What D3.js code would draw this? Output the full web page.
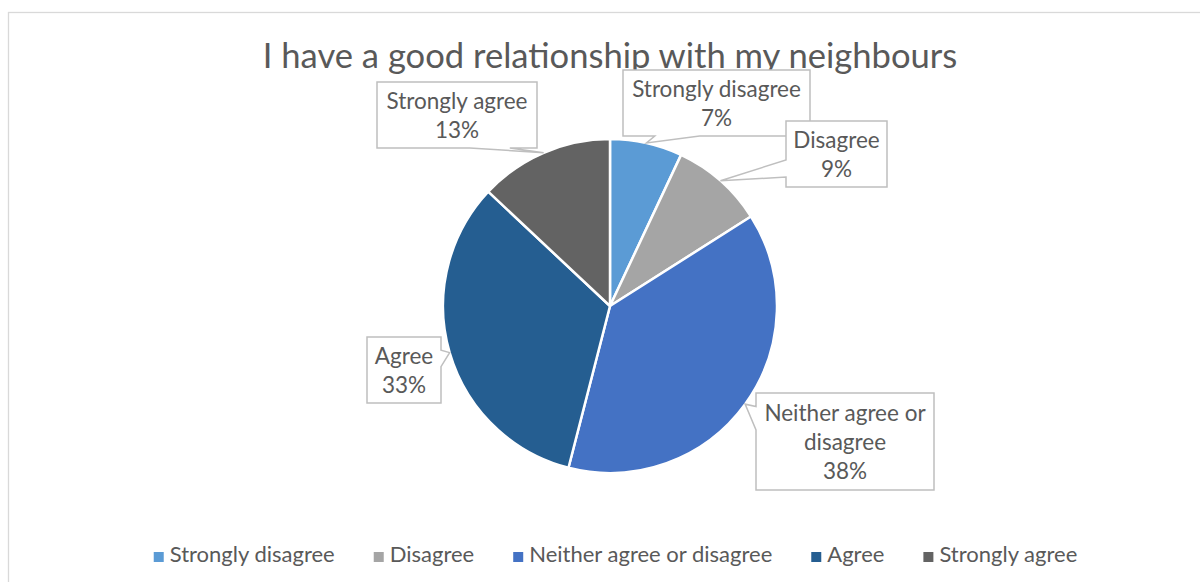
<!DOCTYPE html>
<html>
<head>
<meta charset="utf-8">
<script src="https://cdn.jsdelivr.net/npm/d3@7"></script>
<style>
  html, body { margin: 0; padding: 0; background: #fff; }
  svg { display: block; }
  text { font-family: Lato, "Open Sans", sans-serif; fill: #595959; }
</style>
</head>
<body>
<svg id="chart" width="1200" height="582"></svg>
<script>
// Survey responses
const chartTitle = "I have a good relationship with my neighbours";
const categories = ["Strongly disagree", "Disagree", "Neither agree or disagree", "Agree", "Strongly agree"];
const values = [7, 9, 38, 33, 13];
const colors = ["#5B9BD5", "#A5A5A5", "#4472C4", "#255E91", "#636363"];

// Callout boxes: [x, y, width, height], side the pointer leaves from,
// and the span of that side used for the pointer base.
const callouts = [
  { box: [623, 70, 187, 66], side: "bottom", base: [0.17, 0.41] },
  { box: [786, 121, 101, 66], side: "left", base: [0.59, 0.85] },
  { box: [756, 393, 178, 97], side: "left", base: [0.14, 0.38] },
  { box: [367, 337, 74, 66], side: "right", base: [0.20, 0.45] },
  { box: [377, 82, 160, 66], side: "bottom", base: [0.58, 0.83] }
];

const W = 1200, H = 582;
const cx = 610, cy = 306, radius = 167;
const fontSize = 22.5, legendFont = 22, lineGap = 29;

const svg = d3.select("#chart");

// chart frame
svg.append("rect")
  .attr("x", 8.5).attr("y", 12.5)
  .attr("width", 1220).attr("height", 600)
  .attr("fill", "#fff")
  .attr("stroke", "#d9d9d9").attr("stroke-width", 1.3);

// title
svg.append("text")
  .attr("x", cx).attr("y", 68)
  .attr("text-anchor", "middle")
  .style("font-size", "34.6px")
  .text(chartTitle);

// pie
const pie = d3.pie().sort(null).value(d => d)(values);
const arc = d3.arc().innerRadius(0).outerRadius(radius);
const pieG = svg.append("g").attr("transform", `translate(${cx},${cy})`);
pieG.selectAll("path")
  .data(pie)
  .join("path")
  .attr("d", arc)
  .attr("fill", (d, i) => colors[i])
  .attr("stroke", "#fff")
  .attr("stroke-width", 2.5)
  .attr("stroke-linejoin", "round");

// word-wrap helper using a hidden measuring text
const measure = svg.append("text").attr("visibility", "hidden");
function textWidth(s, size) {
  measure.style("font-size", size + "px").text(s);
  return measure.node().getComputedTextLength();
}
function wrap(s, maxW) {
  const words = s.split(" ");
  const lines = [];
  let cur = "";
  words.forEach(w => {
    const t = cur ? cur + " " + w : w;
    if (cur && textWidth(t, fontSize) > maxW) { lines.push(cur); cur = w; } else { cur = t; }
  });
  if (cur) lines.push(cur);
  return lines;
}

// data-label callouts
const labelG = svg.append("g");
pie.forEach((d, i) => {
  const c = callouts[i];
  const [x0, y0, w, h] = c.box;
  const x1 = x0 + w, y1 = y0 + h;
  const a = (d.startAngle + d.endAngle) / 2;
  const tip = [cx + radius * Math.sin(a), cy - radius * Math.cos(a)];
  let pts;
  if (c.side === "bottom") {
    pts = [[x0, y0], [x1, y0], [x1, y1], [x0 + w * c.base[1], y1], tip, [x0 + w * c.base[0], y1], [x0, y1]];
  } else if (c.side === "left") {
    pts = [[x0, y0], [x1, y0], [x1, y1], [x0, y1], [x0, y0 + h * c.base[1]], tip, [x0, y0 + h * c.base[0]]];
  } else {
    pts = [[x0, y0], [x1, y0], [x1, y0 + h * c.base[0]], tip, [x1, y0 + h * c.base[1]], [x1, y1], [x0, y1]];
  }
  labelG.append("path")
    .attr("d", d3.line()(pts) + "Z")
    .attr("fill", "#fff")
    .attr("stroke", "#bfbfbf")
    .attr("stroke-width", 1.5);

  const lines = wrap(categories[i], w - 10).concat([values[i] + "%"]);
  const mid = y0 + h / 2;
  const t = labelG.append("text")
    .attr("text-anchor", "middle")
    .style("font-size", fontSize + "px");
  lines.forEach((ln, k) => {
    t.append("tspan")
      .attr("x", x0 + w / 2)
      .attr("y", mid + (k - (lines.length - 1) / 2) * lineGap + 8.5)
      .text(ln);
  });
});

// legend
const legendY = 562, sq = 10, sqGap = 16, itemGap = 39;
const legendWidths = categories.map(c => textWidth(c, legendFont));
const totalW = d3.sum(legendWidths) + categories.length * sqGap + (categories.length - 1) * itemGap;
let lx = 615.5 - totalW / 2;
const legendG = svg.append("g");
categories.forEach((c, i) => {
  legendG.append("rect")
    .attr("x", lx).attr("y", legendY - sq)
    .attr("width", sq).attr("height", sq)
    .attr("fill", colors[i]);
  legendG.append("text")
    .attr("x", lx + sqGap).attr("y", legendY)
    .style("font-size", legendFont + "px")
    .text(c);
  lx += sqGap + legendWidths[i] + itemGap;
});
measure.remove();
</script>
</body>
</html>
